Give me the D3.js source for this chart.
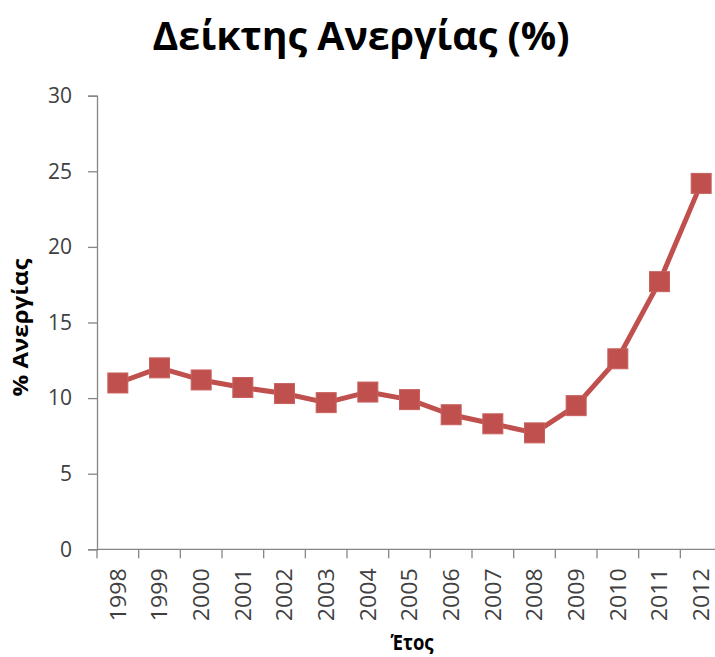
<!DOCTYPE html>
<html><head><meta charset="utf-8">
<script src="https://cdn.jsdelivr.net/npm/d3@7"></script>
<style>body{margin:0;background:#fff}</style>
</head><body>
<svg id="c" width="715" height="657"></svg>
<script>
const years = ["1998","1999","2000","2001","2002","2003","2004","2005","2006","2007","2008","2009","2010","2011","2012"];
const unemployment = [11.0,12.0,11.2,10.7,10.3,9.7,10.4,9.9,8.9,8.3,7.7,9.5,12.6,17.7,24.2];
const yTicks = [0,5,10,15,20,25,30];
const title = "Δείκτης Ανεργίας (%)";
const yTitle = "% Ανεργίας";
const xTitle = "Έτος";

const svg = d3.select("#c");
const mLeft = 97, mRight = 722, mTop = 95.7, mBottom = 549.3;
const x = d3.scaleBand().domain(years).range([mLeft, mRight]);
const y = d3.scaleLinear().domain([0, 30]).range([mBottom, mTop]);
const axisColor = "#868686", textColor = "#404040", red = "#C0504D";
const font = "'Open Sans', sans-serif";

// y axis
const ya = svg.append("g").attr("transform", `translate(${mLeft},0)`)
  .call(d3.axisLeft(y).tickValues(yTicks).tickSize(9).tickPadding(16));
ya.select(".domain").attr("stroke", axisColor).attr("stroke-width", 1.3);
ya.selectAll(".tick line").attr("stroke", axisColor).attr("stroke-width", 1.3);
ya.selectAll(".tick text").attr("font-family", font).attr("font-size", 21).attr("fill", textColor);

// x axis with ticks at band boundaries
const xa = svg.append("g").attr("transform", `translate(0,${mBottom})`);
xa.append("line").attr("x1", mLeft).attr("x2", mRight).attr("stroke", axisColor).attr("stroke-width", 1.3);
const bounds = years.map(d => x(d)).concat([x(years[years.length-1]) + x.bandwidth()]);
xa.selectAll("line.t").data(bounds).join("line").attr("class","t")
  .attr("x1", d => d).attr("x2", d => d).attr("y1", 0).attr("y2", 9)
  .attr("stroke", axisColor).attr("stroke-width", 1.3);
xa.selectAll("text").data(years).join("text")
  .attr("transform", d => `translate(${x(d) + x.bandwidth()/2},19) rotate(-90)`)
  .attr("text-anchor", "end").attr("dy", "0.36em")
  .attr("font-family", font).attr("font-size", 22).attr("fill", textColor)
  .attr("textLength", 53).attr("lengthAdjust", "spacingAndGlyphs")
  .text(d => d);

// line
const cx = d => x(d) + x.bandwidth()/2;
const line = d3.line().x((d,i) => cx(years[i])).y(d => y(d));
svg.append("path").datum(unemployment).attr("d", line)
  .attr("fill", "none").attr("stroke", red).attr("stroke-width", 5).attr("stroke-linejoin", "round");
const s = 20;
svg.selectAll("rect.m").data(unemployment).join("rect").attr("class","m")
  .attr("x", (d,i) => cx(years[i]) - s/2).attr("y", d => y(d) - s/2)
  .attr("width", s).attr("height", s).attr("fill", red)
  .attr("stroke", "#c8615e").attr("stroke-width", 1);

// titles
svg.append("text").attr("x", 361).attr("y", 50).attr("text-anchor", "middle")
  .attr("font-family", font).attr("font-weight", "bold").attr("font-size", 40)
  .attr("textLength", 417).attr("lengthAdjust", "spacingAndGlyphs")
  .attr("fill", "#000").text(title);
svg.append("text").attr("transform", "translate(28,327.5) rotate(-90)").attr("text-anchor", "middle")
  .attr("font-family", font).attr("font-weight", "bold").attr("font-size", 21)
  .attr("textLength", 138).attr("lengthAdjust", "spacingAndGlyphs")
  .attr("fill", "#000").text(yTitle);
svg.append("text").attr("x", 412).attr("y", 650).attr("text-anchor", "middle")
  .attr("font-family", font).attr("font-weight", "bold").attr("font-size", 21)
  .attr("textLength", 43).attr("lengthAdjust", "spacingAndGlyphs")
  .attr("fill", "#000").text(xTitle);
</script>
</body></html>
